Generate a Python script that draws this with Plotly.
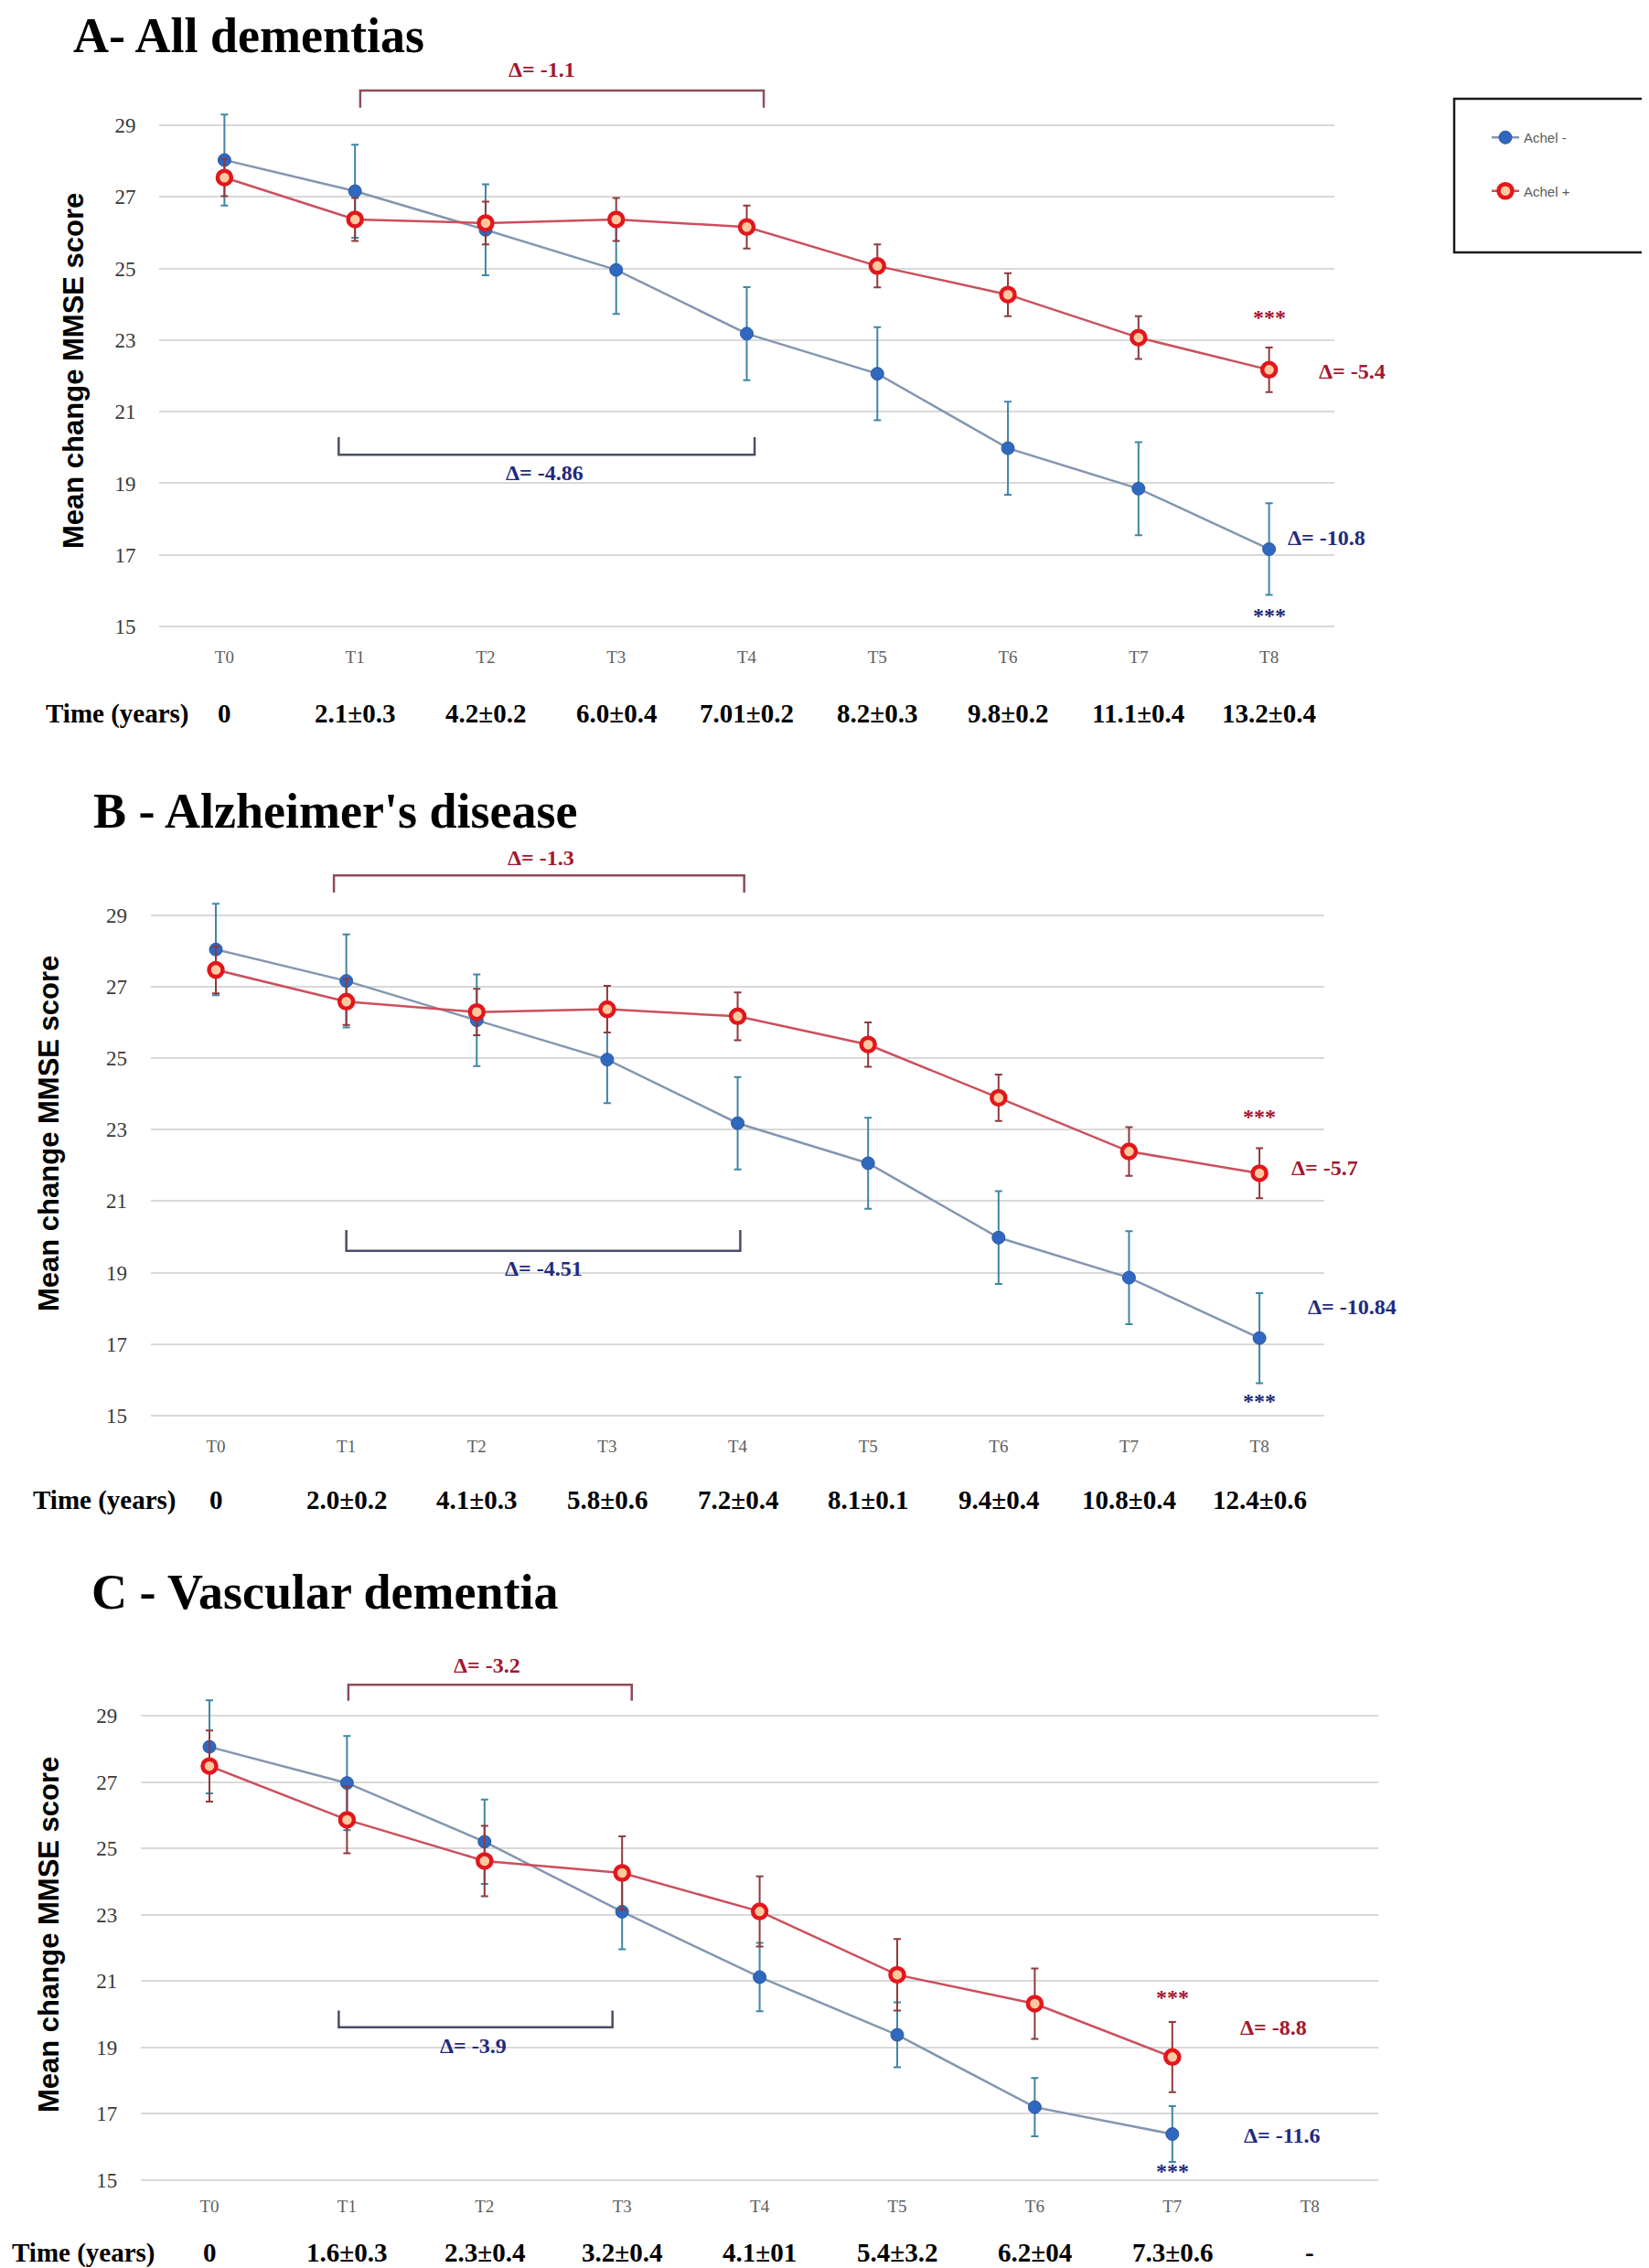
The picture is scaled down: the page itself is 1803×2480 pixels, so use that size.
import plotly.graph_objects as go

W, H = 1803, 2480

# ---------------- data ----------------
cats = ["T0", "T1", "T2", "T3", "T4", "T5", "T6", "T7", "T8"]
y_ticks = [15, 17, 19, 21, 23, 25, 27, 29]

# A - All dementias
blue_A = [28.03, 27.16, 26.08, 24.96, 23.18, 22.06, 19.98, 18.85, 17.16]
blue_A_err = [1.27, 1.30, 1.27, 1.23, 1.30, 1.30, 1.30, 1.30, 1.28]
red_A = [27.54, 26.37, 26.27, 26.37, 26.16, 25.07, 24.27, 23.07, 22.17]
red_A_err = [0.52, 0.60, 0.60, 0.60, 0.60, 0.60, 0.60, 0.60, 0.62]
time_A = ["0", "2.1±0.3", "4.2±0.2", "6.0±0.4", "7.01±0.2", "8.2±0.3", "9.8±0.2", "11.1±0.4", "13.2±0.4"]

# B - Alzheimer's disease
blue_B = [28.04, 27.16, 26.06, 24.96, 23.18, 22.06, 19.98, 18.86, 17.17]
blue_B_err = [1.28, 1.30, 1.28, 1.22, 1.29, 1.27, 1.30, 1.30, 1.26]
red_B = [27.47, 26.58, 26.29, 26.37, 26.17, 25.38, 23.89, 22.39, 21.78]
red_B_err = [0.66, 0.65, 0.65, 0.65, 0.67, 0.62, 0.65, 0.68, 0.70]
time_B = ["0", "2.0±0.2", "4.1±0.3", "5.8±0.6", "7.2±0.4", "8.1±0.1", "9.4±0.4", "10.8±0.4", "12.4±0.6"]

# C - Vascular dementia (no T8 measurement)
blue_C = [28.06, 26.97, 25.20, 23.09, 21.12, 19.38, 17.20, 16.39]
blue_C_err = [1.40, 1.42, 1.27, 1.13, 1.03, 0.98, 0.88, 0.84]
red_C = [27.48, 25.86, 24.62, 24.26, 23.10, 21.19, 20.32, 18.71]
red_C_err = [1.07, 1.01, 1.06, 1.10, 1.06, 1.08, 1.06, 1.06]
time_C = ["0", "1.6±0.3", "2.3±0.4", "3.2±0.4", "4.1±01", "5.4±3.2", "6.2±04", "7.3±0.6", "-"]

titles = ["A- All dementias", "B - Alzheimer's disease", "C - Vascular dementia"]
series_names = ["Achel -", "Achel +"]
delta_top = ["Δ= -1.1", "Δ= -1.3", "Δ= -3.2"]
delta_bottom = ["Δ= -4.86", "Δ= -4.51", "Δ= -3.9"]
delta_red_end = ["Δ= -5.4", "Δ= -5.7", "Δ= -8.8"]
delta_blue_end = ["Δ= -10.8", "Δ= -10.84", "Δ= -11.6"]

# ---------------- styles / layout geometry ----------------
SERIF = "Liberation Serif"
SANS = "Liberation Sans"
BLUE_LINE = "#8496B0"
BLUE_MK = "#2F68BE"
BLUE_ERR = "#3F86A4"
RED_LINE = "#CC4F5C"
RED_MK = "#E3161B"
RED_ERR = "#8E3A3C"
RED_TXT = "#A3172F"
BLUE_TXT = "#1F2A7E"
TOP_BR = "#8E4C58"
BOT_BR = "#4B4F66"
GRID = "#D9D9D9"

panels = [
    dict(blue=blue_A, berr=blue_A_err, red=red_A, rerr=red_A_err, time=time_A, ncat=9,
         xpx=(166, 1451), yrange=[14.5, 30.85], ypx=(56.6, 696.6),
         title_xy=(71, 0), title_anchor="top", ytitle_xy=(72, 398), time_y=772, time_lbl_x=121,
         top_br=(1.04, 4.13, 29.97, 29.49), bot_br=(0.875, 4.06, 19.8, 20.29),
         top_lbl=(2.43, 30.56), bot_lbl=(2.45, 19.3),
         red_end=(1470, 22.14), blue_end=(1442, 17.48),
         red_star=(8, 23.63), blue_star=(8, 15.3)),
    dict(blue=blue_B, berr=blue_B_err, red=red_B, rerr=red_B_err, time=time_B, ncat=9,
         xpx=(156.7, 1440.4), yrange=[14.5, 30.85], ypx=(920.4, 1559.5),
         title_xy=(93, 879), title_anchor="middle", ytitle_xy=(45, 1232), time_y=1632, time_lbl_x=106,
         top_br=(0.905, 4.05, 30.11, 29.63), bot_br=(1.0, 4.02, 19.61, 20.19),
         top_lbl=(2.49, 30.6), bot_lbl=(2.51, 19.12),
         red_end=(1440, 21.93), blue_end=(1470, 18.04),
         red_star=(8, 23.37), blue_star=(8, 15.41)),
    dict(blue=blue_C, berr=blue_C_err, red=red_C, rerr=red_C_err, time=time_C, ncat=8,
         xpx=(145.8, 1499.4), yrange=[14.6, 30.8], ypx=(1802.7, 2390.5),
         title_xy=(91, 1733), title_anchor="middle", ytitle_xy=(45, 2108), time_y=2455, time_lbl_x=83,
         top_br=(1.01, 3.07, 29.93, 29.45), bot_br=(0.94, 2.93, 19.61, 20.11),
         top_lbl=(2.02, 30.52), bot_lbl=(1.92, 19.04),
         red_end=(1384, 19.59), blue_end=(1393, 16.34),
         red_star=(7, 20.5), blue_star=(7, 15.27)),
]

fig = go.Figure()
annotations = []
shapes = []
layout = {}

DELTA_FONT = 24
TIME_FONT = 29

for i, p in enumerate(panels):
    n = i + 1
    xa = "x" if n == 1 else f"x{n}"
    ya = "y" if n == 1 else f"y{n}"
    xkey = "xaxis" if n == 1 else f"xaxis{n}"
    ykey = "yaxis" if n == 1 else f"yaxis{n}"
    xs = cats[:p["ncat"]]

    fig.add_trace(go.Scatter(
        x=xs, y=p["blue"], xaxis=xa, yaxis=ya, mode="lines+markers",
        name=series_names[0], legendgroup="g1", showlegend=(i == 0),
        line=dict(color=BLUE_LINE, width=2.5),
        marker=dict(size=14, color=BLUE_MK, line=dict(color="#2A5AA6", width=1)),
        error_y=dict(type="data", array=p["berr"], color=BLUE_ERR, thickness=2, width=4),
    ))
    fig.add_trace(go.Scatter(
        x=xs, y=p["red"], xaxis=xa, yaxis=ya, mode="lines+markers",
        name=series_names[1], legendgroup="g2", showlegend=(i == 0),
        line=dict(color=RED_LINE, width=2.5),
        marker=dict(size=15, color="#FFC9A0", line=dict(color=RED_MK, width=4.5)),
        error_y=dict(type="data", array=p["rerr"], color=RED_ERR, thickness=2, width=4),
    ))

    layout[xkey] = dict(
        domain=[p["xpx"][0] / W, p["xpx"][1] / W], anchor=ya,
        type="category", categoryorder="array", categoryarray=cats,
        range=[-0.5, 8.5], showgrid=False, zeroline=False, showline=False,
        ticks="", tickfont=dict(family=SERIF, size=19, color="#5E5E5E"),
        fixedrange=True,
    )
    layout[ykey] = dict(
        domain=[1 - p["ypx"][1] / H, 1 - p["ypx"][0] / H], anchor=xa,
        range=p["yrange"], tickvals=y_ticks, showgrid=True, gridcolor=GRID, gridwidth=2,
        zeroline=False, showline=False, ticks="outside", ticklen=20,
        tickcolor="rgba(0,0,0,0)",
        tickfont=dict(family=SERIF, size=23, color="#3A3A3A"),
    )

    # title
    annotations.append(dict(
        text=f"<b>{titles[i]}</b>", xref="paper", yref="paper",
        x=p["title_xy"][0] / W, y=1 - p["title_xy"][1] / H, xanchor="left",
        yanchor=p["title_anchor"], borderpad=0,
        showarrow=False, font=dict(family=SERIF, size=54, color="#000000")))
    # y-axis title
    annotations.append(dict(
        text="<b>Mean change MMSE score</b>", xref="paper", yref="paper",
        x=p["ytitle_xy"][0] / W, y=1 - p["ytitle_xy"][1] / H, textangle=-90,
        xanchor="center", yanchor="middle", showarrow=False,
        font=dict(family=SANS, size=31, color="#000000")))
    # time row
    annotations.append(dict(
        text="<b>Time (years)</b>", xref="paper", yref="paper",
        x=p["time_lbl_x"] / W, y=1 - p["time_y"] / H, xanchor="center", yanchor="middle",
        showarrow=False, font=dict(family=SERIF, size=TIME_FONT, color="#000000")))
    for k, t in enumerate(p["time"]):
        annotations.append(dict(
            text=f"<b>{t}</b>", xref=xa, yref="paper", x=k, y=1 - p["time_y"] / H,
            xanchor="center", yanchor="middle", showarrow=False,
            font=dict(family=SERIF, size=TIME_FONT, color="#000000")))

    # brackets
    x1, x2, yh, yl = p["top_br"]
    shapes.append(dict(type="path", xref=xa, yref=ya,
                       path=f"M {x1},{yl} L {x1},{yh} L {x2},{yh} L {x2},{yl}",
                       line=dict(color=TOP_BR, width=2.5)))
    x1, x2, yh, yl = p["bot_br"]
    shapes.append(dict(type="path", xref=xa, yref=ya,
                       path=f"M {x1},{yl} L {x1},{yh} L {x2},{yh} L {x2},{yl}",
                       line=dict(color=BOT_BR, width=2.5)))

    # delta labels
    annotations.append(dict(text=f"<b>{delta_top[i]}</b>", xref=xa, yref=ya,
                            x=p["top_lbl"][0], y=p["top_lbl"][1], showarrow=False,
                            xanchor="center", yanchor="middle",
                            font=dict(family=SERIF, size=DELTA_FONT, color=RED_TXT)))
    annotations.append(dict(text=f"<b>{delta_bottom[i]}</b>", xref=xa, yref=ya,
                            x=p["bot_lbl"][0], y=p["bot_lbl"][1], showarrow=False,
                            xanchor="center", yanchor="middle",
                            font=dict(family=SERIF, size=DELTA_FONT, color=BLUE_TXT)))
    annotations.append(dict(text=f"<b>{delta_red_end[i]}</b>", xref="paper", yref=ya,
                            x=p["red_end"][0] / W, y=p["red_end"][1], showarrow=False,
                            xanchor="center", yanchor="middle",
                            font=dict(family=SERIF, size=DELTA_FONT, color=RED_TXT)))
    annotations.append(dict(text=f"<b>{delta_blue_end[i]}</b>", xref="paper", yref=ya,
                            x=p["blue_end"][0] / W, y=p["blue_end"][1], showarrow=False,
                            xanchor="center", yanchor="middle",
                            font=dict(family=SERIF, size=DELTA_FONT, color=BLUE_TXT)))
    annotations.append(dict(text="<b>***</b>", xref=xa, yref=ya,
                            x=p["red_star"][0], y=p["red_star"][1], showarrow=False,
                            xanchor="center", yanchor="middle",
                            font=dict(family=SERIF, size=DELTA_FONT, color=RED_TXT)))
    annotations.append(dict(text="<b>***</b>", xref=xa, yref=ya,
                            x=p["blue_star"][0], y=p["blue_star"][1], showarrow=False,
                            xanchor="center", yanchor="middle",
                            font=dict(family=SERIF, size=DELTA_FONT, color=BLUE_TXT)))

# legend box (panel A)
shapes.append(dict(type="rect", xref="paper", yref="paper",
                   x0=1582 / W, x1=1797 / W, y0=1 - 268 / H, y1=1 - 100 / H,
                   line=dict(color="#1A1A1A", width=2.5), fillcolor="rgba(0,0,0,0)"))

fig.update_layout(
    width=W, height=H,
    margin=dict(l=0, r=0, t=0, b=0),
    paper_bgcolor="white", plot_bgcolor="white",
    showlegend=True,
    legend=dict(x=1618 / W, y=1 - 126 / H, xanchor="left", yanchor="top",
                bgcolor="rgba(0,0,0,0)", borderwidth=0, tracegroupgap=36,
                traceorder="grouped",
                font=dict(family=SANS, size=15, color="#5A5A5A")),
    annotations=annotations,
    shapes=shapes,
    **layout,
)

fig.write_html("out.html")
